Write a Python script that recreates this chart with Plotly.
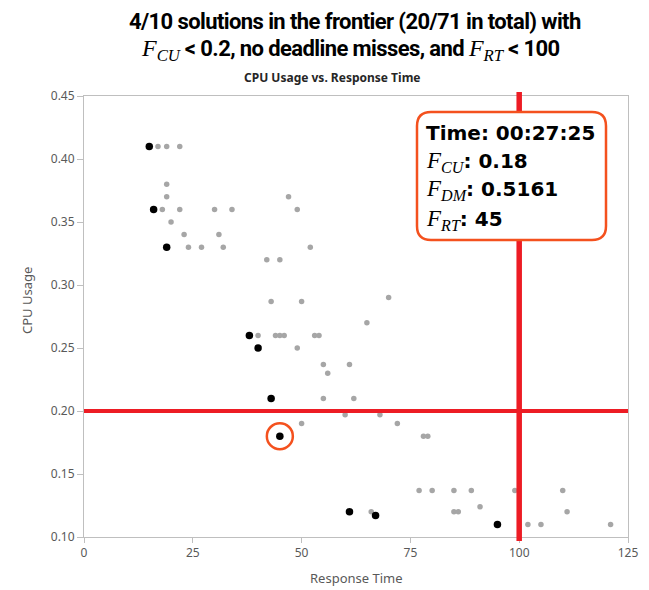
import plotly.graph_objects as go

# ---------------- data ----------------
# non-frontier solutions (grey)
other_rt = [17, 19, 22, 19, 19, 47, 18, 22, 30, 34, 49, 20, 23, 31, 24, 27, 32, 52,
            42, 45, 70, 43, 50, 65, 40, 44, 45, 46, 53, 54, 49, 55, 61, 56, 55, 62,
            60, 68, 50, 72, 78, 79, 77, 80, 85, 89, 99, 110, 91, 66, 85, 86, 111,
            102, 105, 121]
other_cu = [0.41, 0.41, 0.41, 0.38, 0.37, 0.37, 0.36, 0.36, 0.36, 0.36, 0.36, 0.35,
            0.34, 0.34, 0.33, 0.33, 0.33, 0.33, 0.32, 0.32, 0.29, 0.287, 0.287, 0.27,
            0.26, 0.26, 0.26, 0.26, 0.26, 0.26, 0.25, 0.237, 0.237, 0.23, 0.21, 0.21,
            0.197, 0.197, 0.19, 0.19, 0.18, 0.18, 0.137, 0.137, 0.137, 0.137, 0.137,
            0.137, 0.124, 0.12, 0.12, 0.12, 0.12, 0.11, 0.11, 0.11]
# frontier solutions (black)
front_rt = [15, 16, 19, 38, 40, 43, 45, 61, 67, 95]
front_cu = [0.41, 0.36, 0.33, 0.26, 0.25, 0.21, 0.18, 0.12, 0.117, 0.11]

CU_LIMIT = 0.2
RT_LIMIT = 100
selected_rt = 45
selected_cu = 0.18
sel_time = "00:27:25"
sel_dm = "0.5161"

x_ticks = [0, 25, 50, 75, 100, 125]
y_ticks = [0.10, 0.15, 0.20, 0.25, 0.30, 0.35, 0.40, 0.45]

# ---------------- layout helpers ----------------
OFF = 8  # page body margin
W, H = 649 - OFF, 590 - OFF
L, R, T, B = 84 - OFF, 21, 96 - OFF, 53
PW, PH = W - L - R, H - T - B


def px(xp):  # screen pixel x -> paper
    return (xp - OFF - L) / PW


def py(yp):  # screen pixel y -> paper
    return (H - B - (yp - OFF)) / PH


RED = "#ed1c24"
ORANGE = "#f4511e"
GREY_TXT = "#595959"
MATH = "font-family:'Liberation Serif',serif;font-weight:normal;letter-spacing:0px;"


def F(sub, size=None):
    sz = f"font-size:{size}px;" if size else ""
    return (f"<span style=\"{MATH}{sz}\"><i>F</i><sub><i>{sub}</i></sub></span>")


fig = go.Figure()
fig.add_trace(go.Scatter(x=other_rt, y=other_cu, mode="markers",
                         marker=dict(color="#a6a6a6", size=5.5), hoverinfo="x+y"))
fig.add_trace(go.Scatter(x=front_rt, y=front_cu, mode="markers",
                         marker=dict(color="#000000", size=7.5), hoverinfo="x+y"))

shapes = []
# threshold lines
shapes.append(dict(type="line", xref="paper", yref="y", x0=0, x1=1,
                   y0=CU_LIMIT, y1=CU_LIMIT, line=dict(color=RED, width=4), layer="above"))
shapes.append(dict(type="line", xref="x", yref="paper", x0=RT_LIMIT, x1=RT_LIMIT,
                   y0=py(541), y1=py(92), line=dict(color=RED, width=5.5), layer="above"))
# highlight circle
shapes.append(dict(type="circle", xref="x", yref="y", xsizemode="pixel", ysizemode="pixel",
                   xanchor=selected_rt, yanchor=selected_cu, x0=-13, x1=13, y0=-13, y1=13,
                   line=dict(color=ORANGE, width=2.5), layer="above"))
# rounded info box
bx0, bx1, by0, by1, r = 417, 606, 112, 240, 14
path = (f"M {px(bx0 + r)},{py(by0)} L {px(bx1 - r)},{py(by0)} "
        f"Q {px(bx1)},{py(by0)} {px(bx1)},{py(by0 + r)} "
        f"L {px(bx1)},{py(by1 - r)} Q {px(bx1)},{py(by1)} {px(bx1 - r)},{py(by1)} "
        f"L {px(bx0 + r)},{py(by1)} Q {px(bx0)},{py(by1)} {px(bx0)},{py(by1 - r)} "
        f"L {px(bx0)},{py(by0 + r)} Q {px(bx0)},{py(by0)} {px(bx0 + r)},{py(by0)} Z")
shapes.append(dict(type="path", xref="paper", yref="paper", path=path,
                   fillcolor="white", line=dict(color=ORANGE, width=2.5), layer="above"))

annotations = []
box_lines = [
    f"<b>Time: {sel_time}</b>",
    F("CU", 23) + f"<b>: {selected_cu}</b>",
    F("DM", 23) + f"<b>: {sel_dm}</b>",
    F("RT", 23) + f"<b>: {selected_rt}</b>",
]
for txt, yc in zip(box_lines, [133, 162, 190, 220]):
    annotations.append(dict(xref="paper", yref="paper", x=px(424), y=py(yc),
                            xanchor="left", yanchor="middle", text=txt, showarrow=False,
                            font=dict(family="DejaVu Sans", size=20, color="black")))

# titles
TITLE_FONT = dict(family="Roboto", size=22, color="black", weight="bold")
SP = "<span style=\"letter-spacing:-0.6px\">"
annotations.append(dict(xref="paper", yref="paper", x=px(355), y=py(22), xanchor="center",
                        yanchor="middle", showarrow=False,
                        text=SP + "4/10 solutions in the frontier (20/71 in total) with</span>",
                        font=TITLE_FONT))
annotations.append(dict(xref="paper", yref="paper", x=px(350), y=py(50), xanchor="center",
                        yanchor="middle", showarrow=False,
                        text=F("CU", 24) + SP + f" &lt; {CU_LIMIT}, no deadline misses, and </span>"
                        + F("RT", 24) + SP + f" &lt; {RT_LIMIT}</span>",
                        font=TITLE_FONT))
annotations.append(dict(xref="paper", yref="paper", x=px(332), y=py(77), xanchor="center",
                        yanchor="middle", showarrow=False,
                        text="<b>CPU Usage vs. Response Time</b>",
                        font=dict(family="Noto Sans, Open Sans", size=12, color="#262626")))
annotations.append(dict(xref="paper", yref="paper", x=px(356), y=py(578), xanchor="center",
                        yanchor="middle", showarrow=False, text="Response Time",
                        font=dict(family="Noto Sans, Open Sans", size=13, color=GREY_TXT)))
annotations.append(dict(xref="paper", yref="paper", x=px(27), y=py(301), xanchor="center",
                        yanchor="middle", showarrow=False, text="CPU Usage", textangle=-90,
                        font=dict(family="Noto Sans, Open Sans", size=13, color=GREY_TXT)))

axis_common = dict(showgrid=False, zeroline=False, showline=True, linecolor="#bfbfbf",
                   linewidth=1, mirror=True, ticks="outside", tickcolor="#bfbfbf",
                   tickfont=dict(family="Noto Sans, Open Sans", size=12, color=GREY_TXT))

fig.update_layout(
    width=W, height=H, margin=dict(l=L, r=R, t=T, b=B),
    paper_bgcolor="white", plot_bgcolor="white", showlegend=False,
    xaxis=dict(range=[0, 125], tickvals=x_ticks, ticklen=5, **axis_common),
    yaxis=dict(range=[0.10, 0.45], tickvals=y_ticks, tickformat=".2f", ticklen=6,
               **axis_common),
    shapes=shapes, annotations=annotations,
)

fig.write_html("out.html")
